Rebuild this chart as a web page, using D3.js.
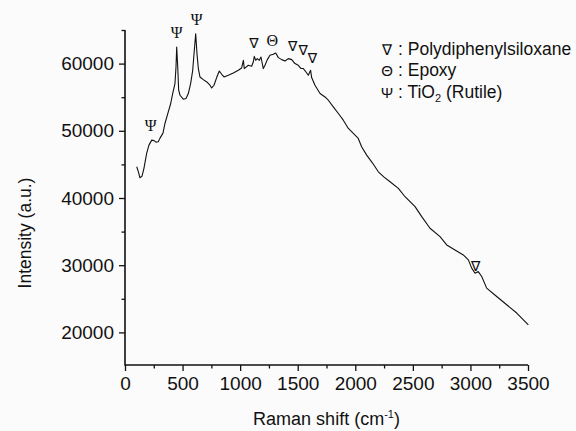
<!DOCTYPE html>
<html>
<head>
<meta charset="utf-8">
<script src="https://cdn.jsdelivr.net/npm/d3@7"></script>
<style>
  body { margin: 0; background: #fbfbfb; }
  svg { display: block; }
</style>
</head>
<body>
<div id="chart"></div>
<script>
// spectrum
var ramanShift = [102, 117, 130, 148, 165, 188, 208, 232, 252, 269, 289, 304, 330, 347, 376, 397, 414, 434, 443, 449,
  458, 466, 478, 506, 530, 550, 570, 588, 602, 614, 625, 637, 651, 680, 710, 738, 753, 773, 796, 819,
  840, 860, 897, 941, 984, 1013, 1028, 1036, 1071, 1100, 1114, 1123, 1135, 1149, 1166, 1181, 1201, 1216, 1236, 1259,
  1288, 1309, 1332, 1361, 1390, 1418, 1448, 1476, 1505, 1529, 1549, 1572, 1592, 1612, 1621, 1650, 1694, 1737, 1766, 1809,
  1853, 1896, 1940, 1983, 2026, 2055, 2099, 2150, 2200, 2250, 2302, 2374, 2432, 2519, 2577, 2649, 2736, 2794, 2866, 2938,
  2982, 3011, 3040, 3068, 3098, 3141, 3228, 3315, 3402, 3503];
var intensity = [44650, 43860, 43010, 43260, 44450, 46640, 47870, 48610, 48540, 48310, 48360, 48910, 49650, 51090, 52810, 54060, 55540, 57030, 59500, 62470,
  59500, 56040, 55290, 54700, 54800, 55550, 57030, 59000, 61980, 64450, 61490, 59260, 58010, 57620, 57270, 56780, 56380, 56780, 57920, 58900,
  58410, 58010, 58260, 58600, 59000, 59350, 60490, 59260, 59750, 59600, 60240, 61080, 60490, 60740, 60490, 60980, 59260, 59750, 60590, 61230,
  61380, 61580, 60890, 60590, 60390, 60740, 60590, 60000, 59750, 59260, 59260, 58750, 58260, 59000, 57920, 56780, 55550, 55040, 54550, 53560,
  52570, 51580, 50350, 49600, 48860, 47620, 46380, 45200, 43900, 43100, 42420, 41430, 40190, 38710, 37230, 35500, 34250, 33020, 32270, 31530,
  30790, 29560, 28810, 29050, 28310, 26590, 25340, 24110, 22880, 21110];

// peak markers
var markSymbol = ["\u03A8", "\u03A8", "\u03A8", "\u2207", "\u0398", "\u2207", "\u2207", "\u2207", "\u2207"];
var markShift = [223, 449, 623, 1120, 1279, 1456, 1548, 1628, 3046];
var markIntensity = [50840, 64690, 66530, 63120, 63460, 62610, 62050, 60750, 29940];

// legend
var legendSymbol = ["\u2207", "\u0398", "\u03A8"];
var legendText = ["Polydiphenylsiloxane", "Epoxy", "TiO"];

var xTicks = [0, 500, 1000, 1500, 2000, 2500, 3000, 3500];
var xMinor = [250, 750, 1250, 1750, 2250, 2750, 3250];
var yTicks = [20000, 30000, 40000, 50000, 60000];
var yMinor = [25000, 35000, 45000, 55000, 65000];

var W = 576, H = 431;
var font = "'Liberation Sans', Arial, sans-serif";

var svg = d3.select("#chart").append("svg")
    .attr("width", W).attr("height", H)
    .style("background", "#fbfbfb");

var x = d3.scaleLinear().domain([0, 3500]).range([125, 528]);
var y = d3.scaleLinear().domain([15000, 65000]).range([366, 30]);

// axes
var gx = svg.append("g").attr("transform", "translate(0," + 365 + ")");
gx.call(d3.axisBottom(x).tickValues(xTicks).tickSize(6).tickPadding(6).tickFormat(d3.format("d")));
gx.append("g").call(d3.axisBottom(x).tickValues(xMinor).tickSize(3.5).tickFormat(""));

var gy = svg.append("g").attr("transform", "translate(" + 125 + ",0)");
gy.call(d3.axisLeft(y).tickValues(yTicks).tickSize(6).tickPadding(5).tickFormat(d3.format("d")));
gy.append("g").call(d3.axisLeft(y).tickValues(yMinor).tickSize(3.5).tickFormat(""));

svg.selectAll(".tick line").attr("stroke", "#111").attr("stroke-width", 1.3);
svg.selectAll(".tick text").attr("fill", "#111").style("font-family", font).style("font-size", "19px");

// plain axis lines instead of the domain paths
svg.selectAll(".domain").remove();
svg.append("line").attr("x1", x(0)).attr("x2", x(3500)).attr("y1", 365).attr("y2", 365)
    .attr("stroke", "#111").attr("stroke-width", 1.6);
svg.append("line").attr("x1", 125).attr("x2", 125).attr("y1", y(65000)).attr("y2", 365.8)
    .attr("stroke", "#111").attr("stroke-width", 1.6);

// axis titles
var xt = svg.append("text")
    .attr("x", (x(0) + x(3500)) / 2).attr("y", 425)
    .attr("text-anchor", "middle")
    .style("font-family", font).style("font-size", "18px").attr("fill", "#111")
    .text("Raman shift (cm");
xt.append("tspan").attr("baseline-shift", "7").style("font-size", "11px").text("-1");
xt.append("tspan").text(")");

svg.append("text")
    .attr("transform", "translate(31,233) rotate(-90)")
    .attr("text-anchor", "middle")
    .style("font-family", font).style("font-size", "17.5px").attr("fill", "#111")
    .text("Intensity (a.u.)");

// spectrum
var pts = ramanShift.map(function (d, i) { return [d, intensity[i]]; });
var line = d3.line().x(d => x(d[0])).y(d => y(d[1]));
svg.append("path")
    .datum(pts)
    .attr("d", line)
    .attr("fill", "none")
    .attr("stroke", "#111")
    .attr("stroke-width", 1.1)
    .attr("stroke-linejoin", "round");

// peak symbols
svg.append("g").selectAll("text")
    .data(markSymbol)
    .join("text")
    .attr("x", (d, i) => x(markShift[i]))
    .attr("y", (d, i) => y(markIntensity[i]))
    .attr("dy", "0.35em")
    .attr("text-anchor", "middle")
    .style("font-family", d => d == "\u2207" ? "'DejaVu Sans', sans-serif" : "'Liberation Serif', serif")
    .style("font-size", (d, i) => d == "\u2207" ? "14px" : "16px")
    .attr("fill", "#111")
    .text(d => d);

// legend
var lg = svg.append("g");
legendSymbol.forEach(function (s, i) {
    var yy = 54.5 + i * 21.5;
    lg.append("text").attr("x", 387).attr("y", yy).attr("text-anchor", "middle")
      .style("font-family", font).style("font-size", "15px").attr("fill", "#111").text(s);
    var t = lg.append("text").attr("x", 398).attr("y", yy)
      .style("font-family", font).style("font-size", "17.5px").attr("fill", "#111")
      .text(": " + legendText[i]);
    if (i == 2) {
        t.append("tspan").attr("baseline-shift", "-4").style("font-size", "11px").text("2");
        t.append("tspan").text(" (Rutile)");
    }
});
</script>
</body>
</html>
